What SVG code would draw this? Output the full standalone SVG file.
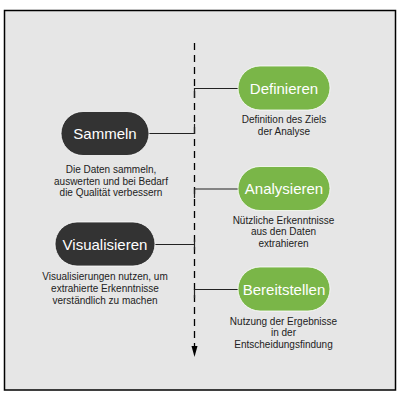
<svg xmlns="http://www.w3.org/2000/svg" width="400" height="400" viewBox="0 0 400 400">
<style>
.pill-g{fill:#7ab648;stroke:#ffffff;stroke-width:0.8}
.pill-d{fill:#333333;stroke:#ffffff;stroke-width:0.8}
.title{font-family:"Liberation Sans",Arial,sans-serif;font-size:15px;fill:#ffffff;text-anchor:middle}
.desc{font-family:"Liberation Sans",Arial,sans-serif;font-size:10px;fill:#222222;text-anchor:middle}
.conn{fill:none;stroke:#222222;stroke-width:1.2}
</style>
<rect x="4.5" y="10.5" width="391" height="379.5" fill="#e6e6e6" stroke="#000000" stroke-width="1.5"/>
<g id="connectors">
<line x1="194.5" y1="43" x2="194.5" y2="347" stroke="#000000" stroke-width="1.3" stroke-dasharray="7,5"/>
<polygon points="191.5,346 197.5,346 194.5,357" fill="#000000"/>
<path class="conn" d="M194.5,98 V88.5 H238"/>
<path class="conn" d="M149,133.5 H194.5 V124"/>
<path class="conn" d="M194.5,198 V189 H238"/>
<path class="conn" d="M155,244.5 H194.5 M194.5,239.5 V249.5"/>
<path class="conn" d="M194.5,298 V289.5 H238"/>
</g>
<g id="definieren">
<rect class="pill-g" x="238" y="66" width="92" height="44" rx="22"/>
<text class="title" x="284" y="93.5">Definieren</text>
<text class="desc" x="284" y="123">Definition des Ziels</text>
<text class="desc" x="284" y="134.5">der Analyse</text>
</g>
<g id="sammeln">
<rect class="pill-d" x="61" y="111.5" width="88" height="44" rx="22"/>
<text class="title" x="105" y="138.5">Sammeln</text>
<text class="desc" x="111" y="173">Die Daten sammeln,</text>
<text class="desc" x="111" y="184.5">auswerten und bei Bedarf</text>
<text class="desc" x="111" y="196">die Qualität verbessern</text>
</g>
<g id="analysieren">
<rect class="pill-g" x="238" y="166.5" width="92" height="44" rx="22"/>
<text class="title" x="284" y="194">Analysieren</text>
<text class="desc" x="283.5" y="223.5">Nützliche Erkenntnisse</text>
<text class="desc" x="283.5" y="235">aus den Daten</text>
<text class="desc" x="283.5" y="246.5">extrahieren</text>
</g>
<g id="visualisieren">
<rect class="pill-d" x="55" y="222" width="100" height="44" rx="22"/>
<text class="title" x="105" y="249.5">Visualisieren</text>
<text class="desc" x="105" y="279.5">Visualisierungen nutzen, um</text>
<text class="desc" x="105" y="291.5">extrahierte Erkenntnisse</text>
<text class="desc" x="105" y="303.5">verständlich zu machen</text>
</g>
<g id="bereitstellen">
<rect class="pill-g" x="238" y="267" width="92" height="44" rx="22"/>
<text class="title" x="284" y="294.5">Bereitstellen</text>
<text class="desc" x="283.5" y="324.5">Nutzung der Ergebnisse</text>
<text class="desc" x="283.5" y="336">in der</text>
<text class="desc" x="283.5" y="347.5">Entscheidungsfindung</text>
</g>
</svg>
